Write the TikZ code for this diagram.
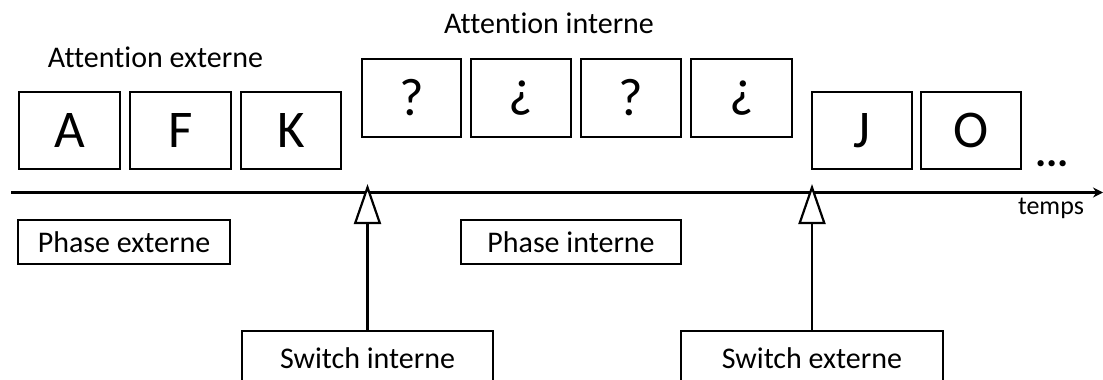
\documentclass[tikz,border=0pt]{standalone}
\usepackage{fontspec}
\setmainfont{Carlito}[Ligatures={NoCommon}]
\usetikzlibrary{arrows.meta}
\tikzset{
  lw/.style={line width=2.2pt},
  letterbox/.style={draw, lw, rectangle, inner sep=0pt, minimum width=100pt, minimum height=77pt, font=\fontsize{53}{60}\selectfont},
  phasebox/.style={draw, lw, rectangle, inner sep=0pt, minimum height=44pt, font=\fontsize{30}{36}\selectfont},
  switchbox/.style={draw, lw, rectangle, anchor=north, inner xsep=0pt, inner ysep=8pt, text height=29pt, text depth=60pt, font=\fontsize{30}{36}\selectfont},
  title/.style={anchor=base, font=\fontsize{30}{36}\selectfont},
  switcharrow/.style={lw, -{Triangle[length=40pt, width=27pt, fill=white]}},
}
\begin{document}
\begin{tikzpicture}[x=1pt, y=-1pt]
\useasboundingbox (0,0) rectangle (1103,380);
\clip (0,0) rectangle (1103,380);

% titles
\node[title] (te) at (155.5,67) {Attention externe};
\node[title] (ti) at (549,34) {Attention interne};

% external letter boxes
\node[letterbox, minimum width=101pt] (A) at (69.5,130.5) {A};
\node[letterbox, minimum width=101pt] (F) at (180.5,130.5) {F};
\node[letterbox] (K) at (291,130.5) {K};

% internal boxes
\node[letterbox, minimum width=99pt, minimum height=78pt] (q1) at (411.5,98) {?};
\node[letterbox, minimum height=78pt] (q2) at (521,98) {¿};
\node[letterbox, minimum height=78pt] (q3) at (631,98) {?};
\node[letterbox, minimum width=101pt, minimum height=78pt] (q4) at (741.5,98) {¿};

% after switch
\node[letterbox] (J) at (862,130.5) {J};
\node[letterbox] (O) at (971,130.5) {O};
\node[anchor=base, font=\fontsize{42}{48}\selectfont\bfseries] (dots) at (1052,166) {...};

% time axis
\coordinate (ax0) at (11,192.5);
\coordinate (ax1) at (1103,192.5);
\draw[lw, -{Stealth[length=10pt, width=10pt]}] (ax0) -- (ax1);
\node[font=\fontsize{26}{30}\selectfont] (temps) at (1051,208) {temps};

% phases
\node[phasebox, minimum width=212pt] (pe) at (124,242) {Phase externe};
\node[phasebox, minimum width=220pt] (pi) at (571,242) {Phase interne};

% switches
\node[switchbox, minimum width=251pt] (si) at (367.5,330) {Switch interne};
\node[switchbox, minimum width=262pt] (se) at (812,330) {Switch externe};
\coordinate (t1) at (367.5,184);
\coordinate (t2) at (812,184);
\draw[switcharrow] (si.north) -- (t1);
\draw[switcharrow] (se.north) -- (t2);
\end{tikzpicture}
\end{document}
